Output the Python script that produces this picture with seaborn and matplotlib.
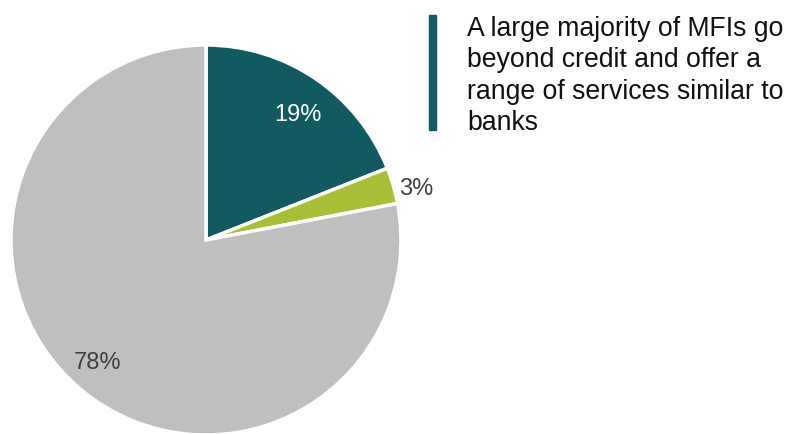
import numpy as np
import matplotlib
matplotlib.use("Agg")
import matplotlib.pyplot as plt
import seaborn as sns
from matplotlib.patches import Rectangle

sns.set_theme(style="white")
plt.rcParams['font.family'] = ['Liberation Sans', 'DejaVu Sans']

categories = ["Beyond credit A", "Beyond credit B", "Other"]
values = [19, 3, 78]
labels = ["19%", "3%", "78%"]
colors = ["#115A62", "#A9BF35", "#BFBFBF"]
label_colors = ["white", "#404040", "#404040"]
label_radius = [0.80, 1.11, 0.835]
label_angle_shift = [-2.0, -2.3, -2.0]
note = "A large majority of MFIs go\nbeyond credit and offer a\nrange of services similar to\nbanks"

fig = plt.figure(figsize=(7.89, 4.35), dpi=100)
W, H = 789, 435
cx, cy, r = 206, 194, 195
ax = fig.add_axes([(cx - r) / W, (cy - r) / H, 2 * r / W, 2 * r / H])
wedges, _ = ax.pie(values, colors=colors, startangle=90, counterclock=False,
                   radius=1.0,
                   wedgeprops=dict(edgecolor="white", linewidth=2.5))
ax.set_xlim(-1, 1)
ax.set_ylim(-1, 1)
ax.set_aspect("equal")
ax.axis("off")

for w, lab, col, lr, sh in zip(wedges, labels, label_colors, label_radius,
                               label_angle_shift):
    ang = np.deg2rad((w.theta1 + w.theta2) / 2 + sh)
    ax.text(lr * np.cos(ang), lr * np.sin(ang), lab, ha="center", va="center",
            fontsize=17, color=col)

# note with accent bar
fig.patches.append(Rectangle((429 / W, 1 - 131 / H), 7 / W, 115 / H,
                             transform=fig.transFigure, color="#115A62"))
fig.text(467 / W, 1 - 16 / H, note, ha="left", va="top", fontsize=19.2,
         color="#111111", linespacing=1.27)

fig.savefig("out.png", dpi=100)
